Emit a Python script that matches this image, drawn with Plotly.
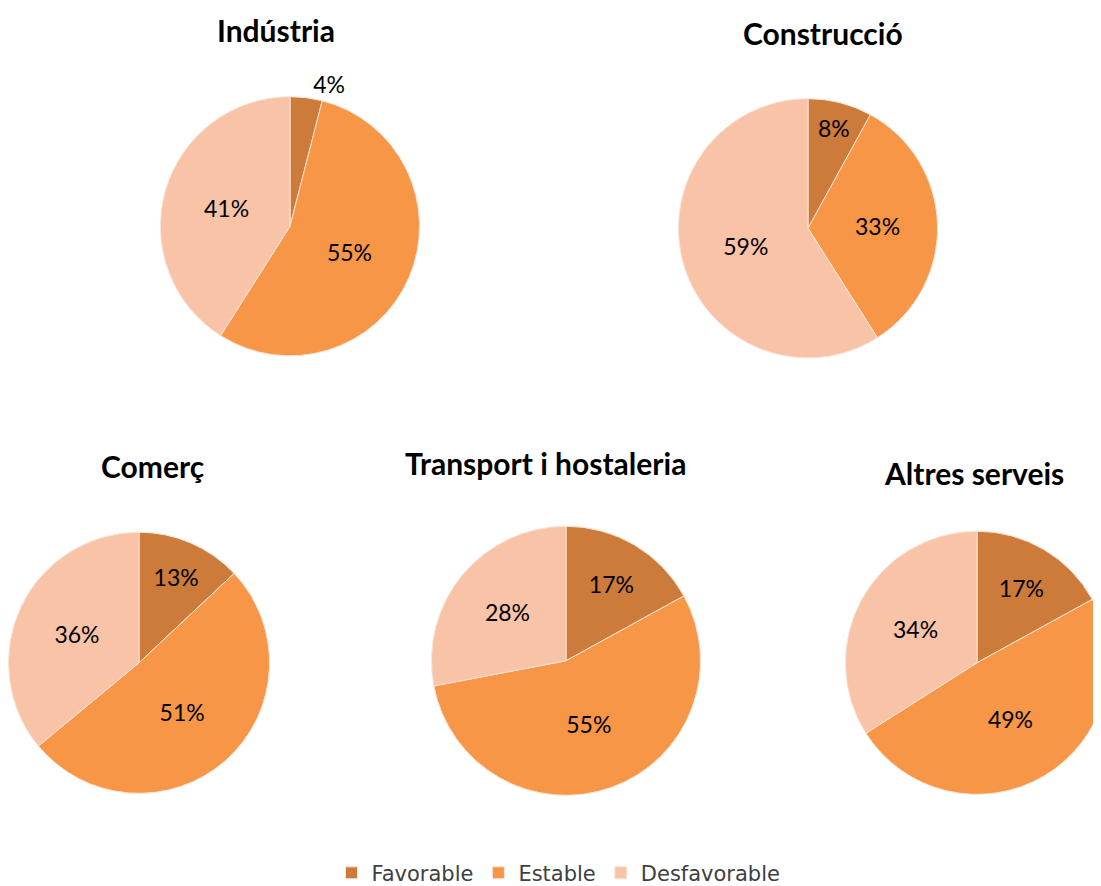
import plotly.graph_objects as go

W, H = 1101, 886

labels = ["Favorable", "Estable", "Desfavorable"]
colors = ["#CD7B3A", "#F79646", "#F9C3A8"]

sectors = ["Indústria", "Construcció", "Comerç", "Transport i hostaleria", "Altres serveis"]
industria = [4, 55, 41]
construccio = [8, 33, 59]
comerc = [13, 51, 36]
transport = [17, 55, 28]
altres = [17, 49, 34]
values = [industria, construccio, comerc, transport, altres]

# pixel boxes in figure coords (x0, x1, y0_top, y1_top)
boxes = [
    (152, 412, 89, 349),
    (670, 930, 91, 351),
    (0, 262, 526, 788),
    (423, 693, 520, 790),
    (837, 1101, 525, 789),
]
# title positions (pixel center x, center y)
titles_pos = [(268, 22), (815, 25), (144, 460), (537, 457), (966, 467)]

fig = go.Figure()
for i, (name, vals, box) in enumerate(zip(sectors, values, boxes)):
    x0, x1, y0, y1 = box
    textpos = ["outside" if v < 5 else "inside" for v in vals]
    fig.add_trace(go.Pie(
        labels=labels,
        values=vals,
        name=name,
        sort=False,
        direction="clockwise",
        rotation=0,
        marker=dict(colors=colors, line=dict(color="#FBE3D6", width=1)),
        texttemplate="%{value}%",
        textposition=textpos,
        insidetextorientation="horizontal",
        textfont=dict(family="Lato", size=23, color="#000000"),
        domain=dict(x=[x0 / W, x1 / W], y=[1 - y1 / H, 1 - y0 / H]),
        hoverinfo="label+percent",
        showlegend=(i == 0),
    ))

for name, (tx, ty) in zip(sectors, titles_pos):
    fig.add_annotation(
        text="<b>" + name + "</b>",
        x=tx / W, y=1 - ty / H, xref="paper", yref="paper",
        xanchor="center", yanchor="middle", showarrow=False,
        font=dict(family="Lato", size=30, color="#000000"),
    )

fig.update_layout(
    width=W, height=H,
    margin=dict(l=0, r=0, t=0, b=0),
    paper_bgcolor="white",
    plot_bgcolor="white",
    legend=dict(
        orientation="h", x=0.5, xanchor="center", y=-0.003, yanchor="bottom",
        font=dict(family="DejaVu Sans", size=21, color="#404040"),
        itemwidth=30,
    ),
)

fig.write_html("out.html")
